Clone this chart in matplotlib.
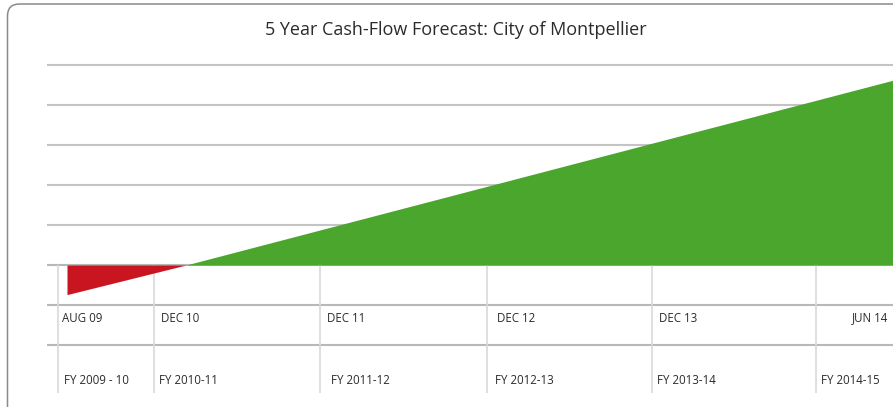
"""5 year cash-flow forecast chart for the City of Montpellier."""

import matplotlib.pyplot as plt
from matplotlib.patches import FancyBboxPatch
import numpy as np

plt.rcParams["font.family"] = ["Open Sans", "DejaVu Sans"]

# forecast line (x in layout units across the chart, value in grid units)
FORECAST_X = [67, 186, 893]
FORECAST_VALUE = [-0.74, 0.0, 4.62]

GRID_VALUES = [5, 4, 3, 2, 1, 0, -1, -2]
DIVIDER_X = [58, 154, 320, 487, 652, 816]

MONTH_LABELS = ["AUG 09", "DEC 10", "DEC 11", "DEC 12", "DEC 13", "JUN 14"]
MONTH_X = [62, 161, 327, 497, 659, 888]
FY_LABELS = ["FY 2009 - 10", "FY 2010-11", "FY 2011-12", "FY 2012-13", "FY 2013-14", "FY 2014-15"]
FY_X = [64, 159, 331, 495, 657, 821]

TITLE = "5 Year Cash-Flow Forecast: City of Montpellier"
RED = "#C8151F"
GREEN = "#4AA62C"
TEXT = "#2b2b2b"


def main():
    fig = plt.figure(figsize=(8.93, 4.07), dpi=100)
    ax = fig.add_axes([0, 0, 1, 1])
    # 40 px per grid unit, zero line at 265 px from the top
    ax.set_xlim(0, 893)
    ax.set_ylim((265 - 407) / 40, 265 / 40)
    ax.axis("off")

    frame = FancyBboxPatch(
        (7.5, (265 - 420) / 40), 900, 416 / 40,
        boxstyle="round,pad=0,rounding_size=12",
        mutation_aspect=1 / 40,
        facecolor="white", edgecolor="#8a8a8a", linewidth=1.1, zorder=0,
    )
    ax.add_patch(frame)

    for value in GRID_VALUES:
        color = "#c4c4c4" if value > 0 else "#b8b8b8"
        ax.hlines(value, 47, 893, color=color, linewidth=1.5, zorder=1)

    ax.vlines(DIVIDER_X, -3.2, 0, color="#d9d9d9", linewidth=1.2, zorder=1)

    x = np.linspace(FORECAST_X[0], FORECAST_X[-1], 800)
    y = np.interp(x, FORECAST_X, FORECAST_VALUE)
    ax.fill_between(x, y, 0, where=y >= 0, interpolate=True, color=GREEN,
                    linewidth=0, zorder=2)
    ax.fill_between(x, y, 0, where=y <= 0, interpolate=True, color=RED,
                    linewidth=0, zorder=2)

    for label, xpos in zip(MONTH_LABELS, MONTH_X):
        ha = "right" if label == "JUN 14" else "left"
        ax.text(xpos, (265 - 318) / 40, label, ha=ha, va="center",
                fontsize=8.3, color=TEXT)
    for label, xpos in zip(FY_LABELS, FY_X):
        ax.text(xpos, (265 - 380) / 40, label, ha="left", va="center",
                fontsize=8.3, color=TEXT)

    ax.text(456, (265 - 30) / 40, TITLE, ha="center", va="center",
            fontsize=13, color=TEXT)

    fig.savefig("out.png", dpi=100, facecolor="white")


if __name__ == "__main__":
    main()
